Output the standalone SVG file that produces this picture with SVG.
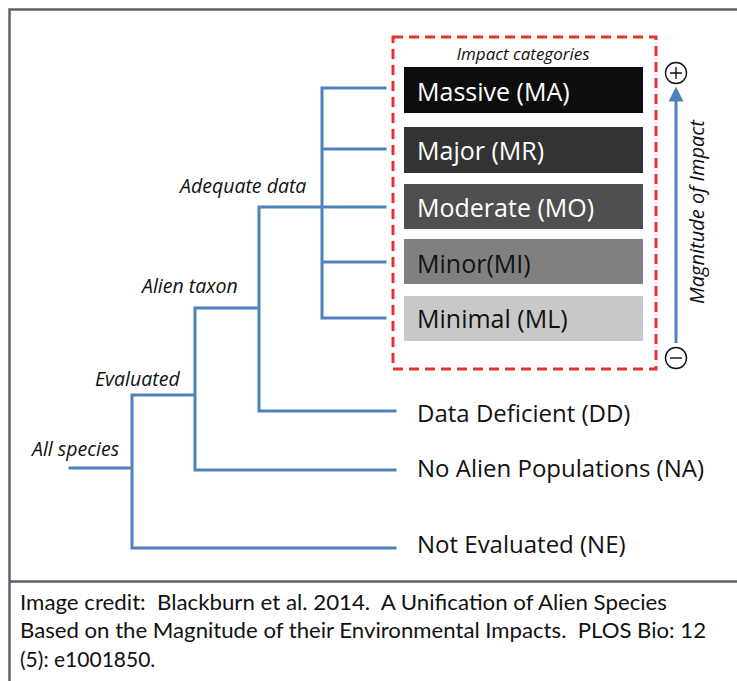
<svg xmlns="http://www.w3.org/2000/svg" width="737" height="681" viewBox="0 0 737 681">
<style>
.frame{stroke:#5a6270;stroke-width:2.5;fill:none}
.br{stroke:#4f81bd;stroke-width:3;fill:none;stroke-linecap:square}
.it{font-family:"Open Sans","Noto Sans",sans-serif;font-style:italic;fill:#111}
.cat{font-family:"Open Sans","Noto Sans",sans-serif;font-size:25px}
.lbl{font-family:"Open Sans","Noto Sans",sans-serif;font-size:24px;fill:#111}
.cap{font-family:"Lato","Noto Sans",sans-serif;font-size:21px;fill:#111;white-space:pre}
.sign{stroke:#111;stroke-width:1.4;fill:#fff}
</style>
<defs>
<marker id="ah" viewBox="0 0 10 10" refX="5" refY="5" markerWidth="5" markerHeight="5" orient="auto-start-reverse" markerUnits="strokeWidth">
<path d="M0,0 L10,5 L0,10 z" fill="#4f81bd"/>
</marker>
</defs>
<rect width="737" height="681" fill="#fff"/>
<g id="frame">
<path class="frame" d="M738,9.5 H9.5 V682"/>
<path class="frame" d="M9.5,581.5 H738"/>
</g>
<g id="connectors">
<path class="br" d="M70,468 H132 M132,395 V548 M132,395 H195 M132,548 H395 M195,308 V470 M195,470 H395 M195,308 H259 M259,207 V411 M259,411 H395 M259,207 H322 M322,88 V318 M322,88 H385 M322,149 H385 M322,207 H385 M322,262 H385 M322,318 H385"/>
<line x1="676" y1="343" x2="676" y2="94" stroke="#4f81bd" stroke-width="3" marker-end="url(#ah)"/>
</g>
<g id="tree-labels">
<text class="it" x="32" y="456" font-size="19.5">All species</text>
<text class="it" x="95" y="386" font-size="19.5">Evaluated</text>
<text class="it" x="142" y="293" font-size="19.5">Alien taxon</text>
<text class="it" x="180" y="193" font-size="19.5">Adequate data</text>
</g>
<g id="impact-box">
<rect x="393" y="37" width="263" height="332" fill="none" stroke="#e8332a" stroke-width="3" stroke-dasharray="10 6"/>
<text class="it" x="523" y="60" font-size="17" text-anchor="middle">Impact categories</text>
</g>
<g id="node-MA"><rect x="404" y="67" width="239" height="46" fill="#0d0d0d"/><text class="cat" x="417" y="101" fill="#fff">Massive (MA)</text></g>
<g id="node-MR"><rect x="404" y="127" width="239" height="46" fill="#333"/><text class="cat" x="417" y="160" fill="#fff">Major (MR)</text></g>
<g id="node-MO"><rect x="404" y="184" width="239" height="45" fill="#4f4f4f"/><text class="cat" x="417" y="217" fill="#fff">Moderate (MO)</text></g>
<g id="node-MI"><rect x="404" y="239" width="239" height="45" fill="#808080"/><text class="cat" x="417" y="273" fill="#111">Minor(MI)</text></g>
<g id="node-ML"><rect x="404" y="296" width="239" height="45" fill="#c8c8c8"/><text class="cat" x="417" y="328" fill="#111">Minimal (ML)</text></g>
<g id="node-DD"><text class="lbl" x="417" y="422">Data Deficient (DD)</text></g>
<g id="node-NA"><text class="lbl" x="417" y="477">No Alien Populations (NA)</text></g>
<g id="node-NE"><text class="lbl" x="417" y="553">Not Evaluated (NE)</text></g>
<g id="magnitude">
<circle class="sign" cx="676" cy="73" r="10.5"/>
<path d="M670,73 H682 M676,67 V79" stroke="#111" stroke-width="1.4"/>
<circle class="sign" cx="676" cy="358" r="10.5"/>
<path d="M670,358 H682" stroke="#111" stroke-width="1.4"/>
<text class="it" font-size="20" text-anchor="middle" transform="translate(704,212) rotate(-90)">Magnitude of Impact</text>
</g>
<g id="caption">
<text class="cap" x="20" y="610" textLength="647" lengthAdjust="spacingAndGlyphs">Image credit:  Blackburn et al. 2014.  A Unification of Alien Species</text>
<text class="cap" x="20" y="638" textLength="686" lengthAdjust="spacingAndGlyphs">Based on the Magnitude of their Environmental Impacts.  PLOS Bio: 12</text>
<text class="cap" x="20" y="667">(5): e1001850.</text>
</g>
</svg>
